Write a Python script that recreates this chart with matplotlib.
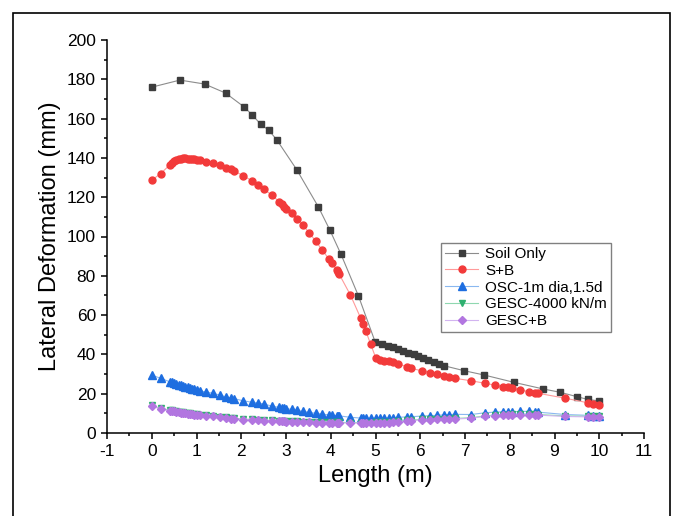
import matplotlib
matplotlib.use('Agg')
import matplotlib.pyplot as plt
from matplotlib.patches import Rectangle
from matplotlib.ticker import MultipleLocator

plt.rcParams['font.family'] = ['Liberation Sans', 'DejaVu Sans']
plt.rcParams['axes.unicode_minus'] = False

# Soil only (coarser set of points)
soil_x = [0, 0.63, 1.18, 1.65, 2.06, 2.24, 2.44, 2.62, 2.8, 3.24, 3.72, 3.98, 4.23, 4.62,
          4.99, 5.15, 5.29, 5.40, 5.51, 5.62, 5.73, 5.85, 5.96, 6.07, 6.18, 6.30, 6.42, 6.52,
          6.98, 7.43, 8.09, 8.75, 9.13, 9.5, 9.74, 10.0]
soil_y = [176.0, 179.6, 177.6, 173.0, 166.0, 162.0, 157.0, 154.0, 149.0, 134.0, 115.2, 103.3, 90.9, 69.7,
          46.5, 45.3, 44.3, 43.6, 42.7, 41.9, 40.9, 40.0, 39.0, 38.2, 37.3, 36.3, 35.3, 34.3,
          31.7, 29.5, 25.8, 22.4, 20.7, 18.5, 17.1, 16.3]

# shared length positions for the other four series
length = [0, 0.2, 0.4, 0.45, 0.5, 0.55, 0.6, 0.65, 0.7, 0.75, 0.8, 0.85, 0.9, 0.95, 1.0,
          1.07, 1.22, 1.37, 1.52, 1.67, 1.77, 1.84,
          2.04, 2.25, 2.38, 2.5, 2.68, 2.85, 2.9, 2.96, 3.01,
          3.13, 3.24, 3.37, 3.52, 3.66, 3.81, 3.96, 4.03, 4.13, 4.16, 4.19,
          4.44, 4.67, 4.73, 4.78, 4.89,
          5.01, 5.1, 5.2, 5.3, 5.4, 5.51, 5.7, 5.79,
          6.03, 6.22, 6.37, 6.52, 6.64, 6.78,
          7.13, 7.45, 7.66, 7.84, 7.95, 8.05,
          8.23, 8.44, 8.56, 8.64,
          9.24, 9.74, 9.86, 10.0]

sb_y = [128.7, 132.0, 136.4, 137.5, 138.3, 139.0, 139.4, 139.6, 139.7, 139.7, 139.6, 139.5, 139.3, 139.2, 139.0,
        138.8, 138.0, 137.2, 136.4, 135.0, 134.2, 133.3,
        131.0, 128.2, 126.2, 124.2, 121.1, 117.7, 116.5, 115.2, 113.8,
        111.8, 108.9, 105.9, 101.9, 97.7, 93.1, 88.5, 86.4, 83.0, 82.0, 80.8,
        70.2, 58.4, 55.3, 52.1, 45.3,
        38.0, 37.2, 36.8, 36.4, 36.0, 35.1, 33.8, 32.9,
        31.7, 30.7, 29.9, 29.0, 28.3, 27.8,
        26.6, 25.3, 24.4, 23.6, 23.2, 22.8,
        21.9, 21.0, 20.6, 20.2,
        17.7, 15.4, 14.8, 14.2]

osc_y = [29.5, 27.8, 26.1, 25.7, 25.3, 25.0, 24.6, 24.3, 23.9, 23.6, 23.2, 22.9, 22.5, 22.2, 21.9,
         21.5, 20.8, 20.2, 19.3, 18.3, 17.8, 17.5,
         16.4, 15.6, 15.2, 14.8, 13.7, 13.0, 12.8, 12.6, 12.4,
         12.0, 11.5, 11.0, 10.5, 10.0, 9.6, 9.2, 9.0, 8.8, 8.7, 8.7,
         8.0, 7.6, 7.5, 7.5, 7.4,
         7.5, 7.5, 7.5, 7.6, 7.7, 8.0, 8.2, 8.3,
         8.6, 8.8, 9.0, 9.2, 9.4, 9.5,
         9.4, 10.3, 10.6, 10.8, 10.8, 10.8,
         11.0, 11.0, 10.8, 10.6,
         9.4, 9.0, 8.8, 8.7]

gesc_y = [14.1, 12.5, 11.7, 11.5, 11.3, 11.1, 10.9, 10.7, 10.5, 10.3, 10.2, 10.0, 9.8, 9.7, 9.5,
          9.4, 9.1, 8.8, 8.2, 7.9, 7.6, 7.5,
          7.1, 6.9, 6.7, 6.6, 6.4, 6.3, 6.2, 6.2, 6.1,
          6.0, 5.9, 5.8, 5.7, 5.6, 5.6, 5.5, 5.5, 5.4, 5.4, 5.4,
          5.3, 5.3, 5.3, 5.3, 5.3,
          5.4, 5.4, 5.5, 5.6, 5.8, 6.1, 6.4, 6.6,
          6.9, 7.1, 7.2, 7.3, 7.3, 7.4,
          7.8, 8.7, 9.1, 9.3, 9.4, 9.5,
          9.5, 9.5, 9.5, 9.4,
          8.7, 8.5, 8.5, 8.4]

gesc_b_y = [13.7, 12.2, 11.4, 11.2, 11.0, 10.8, 10.6, 10.4, 10.2, 10.0, 9.9, 9.7, 9.5, 9.4, 9.2,
            9.1, 8.8, 8.5, 7.9, 7.6, 7.3, 7.2,
            6.8, 6.6, 6.4, 6.3, 6.1, 6.0, 5.9, 5.9, 5.8,
            5.7, 5.6, 5.5, 5.4, 5.3, 5.3, 5.2, 5.2, 5.1, 5.1, 5.1,
            5.0, 5.0, 5.0, 5.0, 5.0,
            5.1, 5.1, 5.2, 5.3, 5.5, 5.8, 6.1, 6.3,
            6.6, 6.8, 6.9, 7.0, 7.0, 7.1,
            7.5, 8.4, 8.8, 9.0, 9.1, 9.2,
            9.2, 9.2, 9.2, 9.1,
            8.4, 8.2, 8.2, 8.1]

fig = plt.figure(figsize=(6.75, 5.16), dpi=100)
ax = fig.add_axes([107 / 675, 1 - 433 / 516, (644 - 107) / 675, (433 - 40) / 516])

ax.plot(soil_x, soil_y, color='#8c8c8c', lw=0.8, marker='s', ms=4.5,
        mfc='#3d3d3d', mec='#3d3d3d', label='Soil Only')
ax.plot(length, sb_y, color='#ff9a9a', lw=0.8, marker='o', ms=5.0,
        mfc='#f23a3a', mec='#f23a3a', label='S+B')
ax.plot(length, osc_y, color='#8ab8f0', lw=0.8, marker='^', ms=5.5,
        mfc='#1e6ee0', mec='#1e6ee0', label='OSC-1m dia,1.5d')
ax.plot(length, gesc_y, color='#8fd8b0', lw=0.8, marker='v', ms=5.0,
        mfc='#2fb070', mec='#2fb070', label='GESC-4000 kN/m')
ax.plot(length, gesc_b_y, color='#d2b4f0', lw=0.8, marker='D', ms=4.5,
        mfc='#b276e0', mec='#b276e0', label='GESC+B')

ax.set_xlim(-1, 11)
ax.set_ylim(0, 200)
ax.xaxis.set_major_locator(MultipleLocator(1))
ax.xaxis.set_minor_locator(MultipleLocator(0.5))
ax.yaxis.set_major_locator(MultipleLocator(20))
ax.yaxis.set_minor_locator(MultipleLocator(10))

for side in ['top', 'right']:
    ax.spines[side].set_visible(False)
for side in ['left', 'bottom']:
    ax.spines[side].set_linewidth(1.1)

ax.tick_params(which='major', direction='out', length=4.5, width=1.1, labelsize=12.5)
ax.tick_params(which='minor', direction='out', length=2.5, width=1.1)

ax.set_xlabel('Length (m)', fontsize=17, labelpad=4)
ax.set_ylabel('Lateral Deformation (mm)', fontsize=17, labelpad=4)

leg = ax.legend(loc='upper left', bbox_to_anchor=(0.622, 0.483), fontsize=11,
                frameon=True, fancybox=False, borderaxespad=0, borderpad=0.25,
                labelspacing=0.18, handlelength=2.2, handletextpad=0.45)
leg.get_frame().set_edgecolor('#606060')
leg.get_frame().set_linewidth(1.0)

# outer frame around the whole picture
frame = Rectangle((13 / 675, -0.05), (670 - 13) / 675, 1.05 - 13 / 516,
                  transform=fig.transFigure, fill=False, edgecolor='black', lw=1.2,
                  clip_on=False)
fig.patches.append(frame)

plt.savefig('out.png', dpi=100)
plt.close(fig)
